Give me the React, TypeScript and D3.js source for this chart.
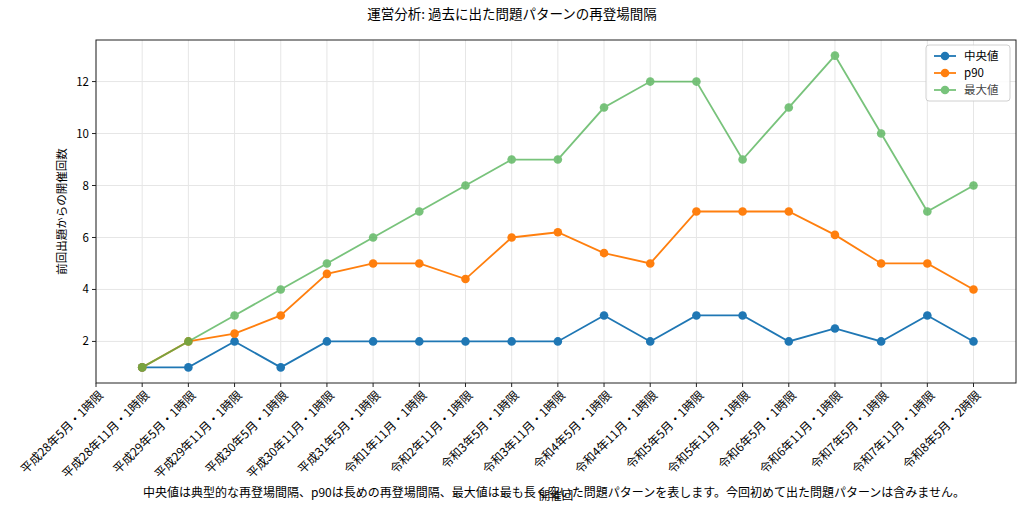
import React from "react";
import * as d3 from "d3";

const labels = [
  "平成28年5月・1時限", "平成28年11月・1時限", "平成29年5月・1時限", "平成29年11月・1時限",
  "平成30年5月・1時限", "平成30年11月・1時限", "平成31年5月・1時限", "令和1年11月・1時限",
  "令和2年11月・1時限", "令和3年5月・1時限", "令和3年11月・1時限", "令和4年5月・1時限",
  "令和4年11月・1時限", "令和5年5月・1時限", "令和5年11月・1時限", "令和6年5月・1時限",
  "令和6年11月・1時限", "令和7年5月・1時限", "令和7年11月・1時限", "令和8年5月・2時限",
];
// values start at the second label
const median = [1, 1, 2, 1, 2, 2, 2, 2, 2, 2, 3, 2, 3, 3, 2, 2.5, 2, 3, 2];
const p90 = [1, 2, 2.3, 3, 4.6, 5, 5, 4.4, 6, 6.2, 5.4, 5, 7, 7, 7, 6.1, 5, 5, 4];
const maxv = [1, 2, 3, 4, 5, 6, 7, 8, 9, 9, 11, 12, 12, 9, 11, 13, 10, 7, 8];
const yTicks = [2, 4, 6, 8, 10, 12];

const series = [
  { name: "中央値", values: median, color: "#1f77b4", opacity: 1 },
  { name: "p90", values: p90, color: "#ff7f0e", opacity: 1 },
  { name: "最大値", values: maxv, color: "#4caf50", opacity: 0.75 },
];

const W = 1024, H = 510;
const L = 96, R = 1016, T = 40, B = 383;
const font = "'Noto Sans CJK JP', sans-serif";

export default function App() {
  const x = d3.scaleLinear().domain([0, 19.92]).range([L, R]);
  const y = d3.scaleLinear().domain([0.4, 13.6]).range([B, T]);
  const line = d3.line<number>().x((_, i) => x(i + 1)).y((d) => y(d));
  return (
    <svg width={W} height={H} style={{ position: "absolute", left: 0, top: 0, fontFamily: font }}>
      <rect width={W} height={H} fill="white" />
      {labels.map((_, i) => (
        <line key={"gx" + i} x1={x(i)} x2={x(i)} y1={T} y2={B} stroke="#e6e6e6" />
      ))}
      {yTicks.map((t) => (
        <line key={"gy" + t} x1={L} x2={R} y1={y(t)} y2={y(t)} stroke="#e6e6e6" />
      ))}
      {series.map((s) => (
        <g key={s.name} opacity={s.opacity}>
          <path d={line(s.values) || ""} fill="none" stroke={s.color} strokeWidth={1.8} />
          {s.values.map((v, i) => (
            <circle key={i} cx={x(i + 1)} cy={y(v)} r={4.3} fill={s.color} />
          ))}
        </g>
      ))}
      <rect x={L} y={T} width={R - L} height={B - T} fill="none" stroke="#222" strokeWidth={1} />
      {yTicks.map((t) => (
        <g key={"ty" + t}>
          <line x1={L - 4} x2={L} y1={y(t)} y2={y(t)} stroke="#222" />
          <text x={L - 7} y={y(t)} dy="0.35em" textAnchor="end" fontSize={11.5}>{t}</text>
        </g>
      ))}
      {labels.map((l, i) => (
        <g key={"tx" + i}>
          <line x1={x(i)} x2={x(i)} y1={B} y2={B + 4} stroke="#222" />
          <text transform={`translate(${x(i) + 3},${B + 8}) rotate(-45)`} textAnchor="end" dy="0.6em" fontSize={12}>{l}</text>
        </g>
      ))}
      <text x={512} y={19} textAnchor="middle" fontSize={13.5}>運営分析: 過去に出た問題パターンの再登場間隔</text>
      <text transform={`translate(66,${(T + B) / 2}) rotate(-90)`} textAnchor="middle" fontSize={11.5}>前回出題からの開催回数</text>
      <text x={556} y={500} textAnchor="middle" fontSize={11.5}>開催回</text>
      <text x={554} y={497} textAnchor="middle" fontSize={12}>中央値は典型的な再登場間隔、p90は長めの再登場間隔、最大値は最も長く空いた問題パターンを表します。今回初めて出た問題パターンは含みません。</text>
      <g transform="translate(926,45)">
        <rect width={84} height={56} rx={3} fill="white" stroke="#ccc" opacity={0.9} />
        {series.map((s, i) => (
          <g key={s.name} transform={`translate(8,${11 + i * 17})`} opacity={s.opacity}>
            <line x1={0} x2={22} stroke={s.color} strokeWidth={1.8} />
            <circle cx={11} r={4.3} fill={s.color} />
            <text x={30} dy="0.35em" fontSize={11.5} fill="#000">{s.name}</text>
          </g>
        ))}
      </g>
    </svg>
  );
}
